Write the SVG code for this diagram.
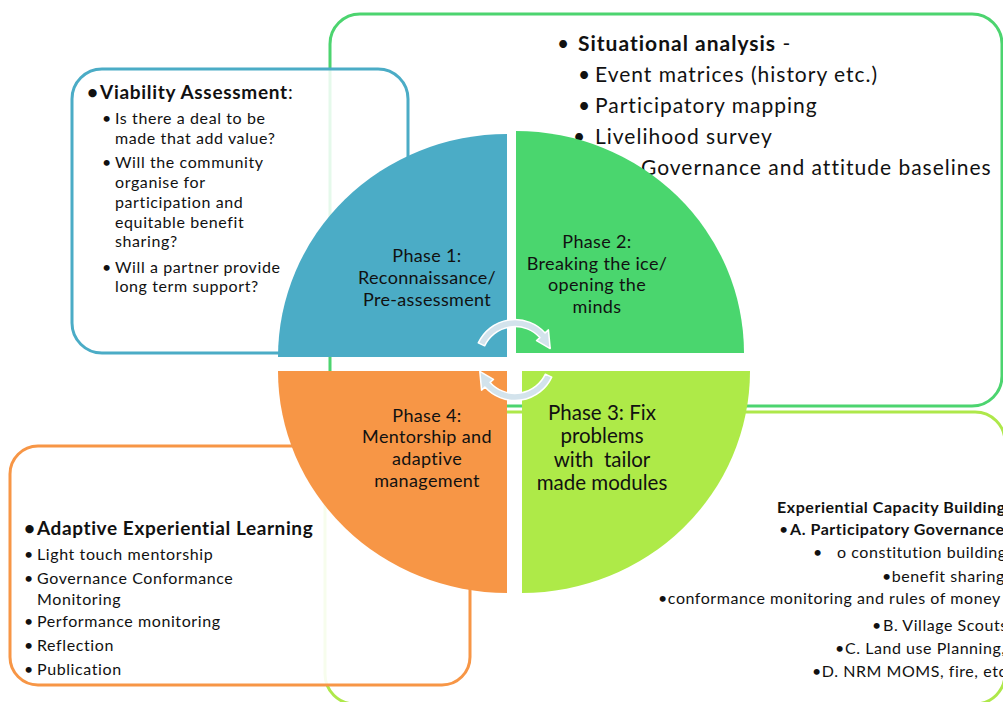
<svg xmlns="http://www.w3.org/2000/svg" width="1003" height="702" viewBox="0 0 1003 702">
  <style>
    text { font-family: Lato, "Open Sans", "Liberation Sans", sans-serif; fill: #111; }
    .b { font-weight: bold; }
    .box { stroke-width: 3; }
    .arrow { fill: #d3e3ec; stroke: #ffffff; stroke-width: 1.5; stroke-linejoin: round; }
    .ph { text-anchor: middle; font-size: 18px; letter-spacing: 0.35px; }
    .ph3 { text-anchor: middle; font-size: 20.5px; }
  </style>
  <rect width="1003" height="702" fill="#ffffff"/>

  <!-- Phase 2 detail box (green) -->
  <g id="box-situational">
    <rect class="box" x="330" y="14" width="672" height="392" rx="30" fill="#ffffff" stroke="#4cd46f"/>
    <g font-size="21" letter-spacing="1">
      <text x="557" y="51">•</text>
      <text x="578" y="51"><tspan class="b">Situational analysis</tspan> -</text>
      <text x="578" y="82">•</text><text x="595" y="82">Event matrices (history etc.)</text>
      <text x="578" y="113">•</text><text x="595" y="113">Participatory mapping</text>
      <text x="573" y="144">•</text><text x="595" y="144">Livelihood survey</text>
      <text x="641" y="175">Governance and attitude baselines</text>
    </g>
  </g>

  <!-- Phase 3 detail box (light green) -->
  <g id="box-capacity">
    <rect class="box" x="325" y="412" width="680" height="292" rx="30" fill="#ffffff" stroke="#aee84a"/>
    <g font-size="16" letter-spacing="0.55">
      <text class="b" x="777" y="513">Experiential Capacity Building</text>
      <text x="779" y="535">•</text><text class="b" x="790" y="535">A. Participatory Governance</text>
      <text x="813" y="558">•</text><text x="837" y="558">o constitution building</text>
      <text x="882" y="582">•benefit sharing</text>
      <text x="658" y="604">•conformance monitoring and rules of money</text>
      <text x="872" y="631">•</text><text x="883" y="631">B. Village Scouts</text>
      <text x="835" y="654">•</text><text x="845" y="654">C. Land use Planning,</text>
      <text x="812" y="677">•D. NRM MOMS, fire, etc</text>
    </g>
  </g>

  <!-- Phase 1 detail box (blue) -->
  <g id="box-viability">
    <rect class="box" x="72" y="69" width="336" height="284" rx="30" fill="#ffffff" fill-opacity="0.86" stroke="#4bacc6"/>
    <text x="87" y="99" font-size="19" class="b">•</text>
    <text x="100" y="99" font-size="19" letter-spacing="0.7"><tspan class="b">Viability Assessment</tspan>:</text>
    <g font-size="16" letter-spacing="0.6">
      <text x="102" y="124">•</text><text x="115" y="124">Is there a deal to be</text>
      <text x="115" y="144">made that add value?</text>
      <text x="102" y="168">•</text><text x="115" y="168">Will the community</text>
      <text x="115" y="188">organise for</text>
      <text x="115" y="208">participation and</text>
      <text x="115" y="228">equitable benefit</text>
      <text x="115" y="247">sharing?</text>
      <text x="102" y="273">•</text><text x="115" y="273">Will a partner provide</text>
      <text x="115" y="292">long term support?</text>
    </g>
  </g>

  <!-- Phase 4 detail box (orange) -->
  <g id="box-adaptive">
    <rect class="box" x="10" y="446" width="460" height="239" rx="28" fill="#ffffff" fill-opacity="0.9" stroke="#f79646"/>
    <text x="24" y="535" font-size="19" class="b">•</text>
    <text x="37" y="535" font-size="19" letter-spacing="0.6" class="b">Adaptive Experiential Learning</text>
    <g font-size="16" letter-spacing="0.6">
      <text x="24" y="560">•</text><text x="37" y="560">Light touch mentorship</text>
      <text x="24" y="584">•</text><text x="37" y="584">Governance Conformance</text>
      <text x="37" y="605">Monitoring</text>
      <text x="24" y="627">•</text><text x="37" y="627">Performance monitoring</text>
      <text x="24" y="651">•</text><text x="37" y="651">Reflection</text>
      <text x="24" y="675">•</text><text x="37" y="675">Publication</text>
    </g>
  </g>

  <!-- Phase quadrants -->
  <g id="phase1">
    <path d="M507 357 L278 357 A229 223 0 0 1 507 134 Z" fill="#4bacc6"/>
    <text class="ph" x="427" y="262">Phase 1:</text>
    <text class="ph" x="427" y="284">Reconnaissance/</text>
    <text class="ph" x="427" y="306">Pre-assessment</text>
  </g>
  <g id="phase2">
    <path d="M516 353 L516 131 A228 222 0 0 1 744 353 Z" fill="#4ad66e"/>
    <text class="ph" x="597" y="248">Phase 2:</text>
    <text class="ph" x="597" y="270">Breaking the ice/</text>
    <text class="ph" x="597" y="291">opening the</text>
    <text class="ph" x="597" y="313">minds</text>
  </g>
  <g id="phase3">
    <path d="M522 371 L750 371 A228 222 0 0 1 522 593 Z" fill="#aeea48"/>
    <text class="ph3" x="602" y="420">Phase 3: Fix</text>
    <text class="ph3" x="602" y="443">problems</text>
    <text class="ph3" x="602" y="467" xml:space="preserve">with  tailor</text>
    <text class="ph3" x="602" y="490">made modules</text>
  </g>
  <g id="phase4">
    <path d="M507 371 L507 593 A229 222 0 0 1 278 371 Z" fill="#f79646"/>
    <text class="ph" x="427" y="422">Phase 4:</text>
    <text class="ph" x="427" y="443">Mentorship and</text>
    <text class="ph" x="427" y="465">adaptive</text>
    <text class="ph" x="427" y="487">management</text>
  </g>

  <!-- Cycle arrows in the centre -->
  <g id="connectors">
    <path class="arrow" d="M478.29 342.88 A40.5 40.5 0 0 1 545.10 332.90 L548.44 329.89 L550.19 348.57 L536.55 340.60 L539.89 337.59 A33.5 33.5 0 0 0 484.64 345.84 Z"/>
    <path class="arrow" d="M551.71 377.12 A40.5 40.5 0 0 1 484.90 387.10 L481.56 390.11 L479.81 371.43 L493.45 379.40 L490.11 382.41 A33.5 33.5 0 0 0 545.36 374.16 Z"/>
  </g>
</svg>
